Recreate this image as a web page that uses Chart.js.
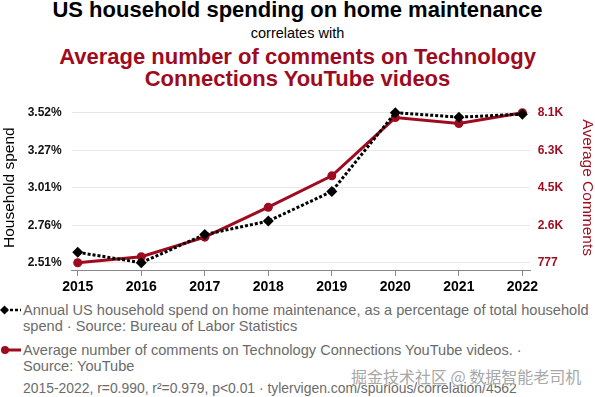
<!DOCTYPE html>
<html><head><meta charset="utf-8">
<script src="https://cdn.jsdelivr.net/npm/chart.js@4"></script>
<style>
html,body{margin:0;padding:0;background:#fff;}
body{width:595px;height:397px;position:relative;overflow:hidden;font-family:"Liberation Sans",Arial,sans-serif;}
.t{position:absolute;left:0;width:595px;text-align:center;white-space:nowrap;}
#t1{top:-2px;font-size:22px;font-weight:bold;color:#000;line-height:24px;}
#t2{top:25px;font-size:14.5px;color:#000;line-height:16px;}
#t3{top:46px;font-size:22px;font-weight:bold;color:#9e0b1f;line-height:21.5px;}
#wrap{position:absolute;left:0;top:0;width:595px;height:300px;}
.leg{position:absolute;left:23px;width:572px;font-size:14.6px;color:#6b6b6b;line-height:16px;white-space:nowrap;}
.mk{position:absolute;left:0;}
#wm{position:absolute;left:351px;top:366px;font-size:16px;line-height:20px;font-family:"Noto Sans CJK SC",sans-serif;color:#a8a8a8;text-shadow:0 0 1px #fff,0 0 1px #fff;white-space:nowrap;}
</style></head>
<body>
<div class="t" id="t1">US household spending on home maintenance</div>
<div class="t" id="t2">correlates with</div>
<div class="t" id="t3">Average number of comments on Technology<br>Connections YouTube videos</div>
<div id="wrap"><canvas id="c" width="595" height="300"></canvas></div>
<svg class="mk" style="top:304px" width="24" height="12"><line x1="5" y1="6" x2="21" y2="6" stroke="#000" stroke-width="2.5" stroke-dasharray="3,2"/><polygon points="4.5,1.5 9,6 4.5,10.5 0,6" fill="#000"/></svg>
<div class="leg" style="top:302.3px">Annual US household spend on home maintenance, as a percentage of total household<br>spend · Source: Bureau of Labor Statistics</div>
<svg class="mk" style="top:344px" width="24" height="12"><line x1="5" y1="6" x2="21" y2="6" stroke="#9e0b1f" stroke-width="3"/><circle cx="5" cy="6" r="4" fill="#9e0b1f"/></svg>
<div class="leg" style="top:342.3px">Average number of comments on Technology Connections YouTube videos. ·<br>Source: YouTube</div>
<div class="leg" style="top:379.7px;font-size:13.9px">2015-2022, r=0.990, r²=0.979, p&lt;0.01 · tylervigen.com/spurious/correlation/4562</div>
<div id="wm">掘金技术社区 @ 数据智能老司机</div>
<script>
const years = [2015, 2016, 2017, 2018, 2019, 2020, 2021, 2022];
const household = [2.58, 2.51, 2.70, 2.79, 2.99, 3.52, 3.49, 3.51];
const comments = [777, 1070, 2030, 3500, 5040, 7900, 7610, 8140];
const leftTickLabels = ['2.51%', '2.76%', '3.01%', '3.27%', '3.52%'];
const rightTickLabels = ['777', '2.6K', '4.5K', '6.3K', '8.1K'];
const RED = '#9e0b1f';

const hMin = Math.min(...household), hMax = Math.max(...household);
const cMin = Math.min(...comments), cMax = Math.max(...comments);
const padFrac = 7.3 / 150;
function even(min, max, n) { const a = []; for (let i = 0; i < n; i++) a.push({value: min + (max - min) * i / (n - 1)}); return a; }

new Chart(document.getElementById('c'), {
  type: 'line',
  data: {
    datasets: [
      {label: 'household', data: years.map((y, i) => ({x: y, y: household[i]})), yAxisID: 'y',
       borderColor: '#000', backgroundColor: '#000', borderWidth: 3, borderDash: [3, 2],
       pointStyle: 'rectRot', pointRadius: 5.5, pointBorderWidth: 0, tension: 0},
      {label: 'comments', data: years.map((y, i) => ({x: y, y: comments[i]})), yAxisID: 'y1',
       borderColor: RED, backgroundColor: RED, borderWidth: 3,
       pointStyle: 'circle', pointRadius: 4.5, pointBorderWidth: 0, tension: 0}
    ]
  },
  options: {
    responsive: false, animation: false, devicePixelRatio: 1,
    layout: {padding: {top: 105.4, left: 0, right: 0, bottom: 0}},
    plugins: {legend: {display: false}, tooltip: {enabled: false}},
    scales: {
      x: {type: 'linear', min: 2014.905, max: 2022.12,
          afterBuildTicks: s => { s.ticks = years.map(v => ({value: v})); },
          ticks: {callback: (v, i) => String(years[i]), font: {family: 'Liberation Sans', size: 14, weight: 'bold'}, color: '#000', padding: 3, maxRotation: 0, autoSkip: false},
          grid: {drawOnChartArea: false, drawTicks: true, tickLength: 6, color: '#888'},
          border: {display: true, color: '#888'},
          afterFit: s => { s.height = 30; }},
      y: {position: 'left', min: hMin - (hMax - hMin) * padFrac, max: hMax + (hMax - hMin) * padFrac,
          afterBuildTicks: s => { s.ticks = even(hMin, hMax, leftTickLabels.length); },
          ticks: {callback: (v, i) => leftTickLabels[i], font: {family: 'Liberation Sans', size: 12, weight: 'bold'}, color: '#111', padding: 10},
          grid: {color: '#e8e8e8', drawTicks: false},
          border: {display: false},
          title: {display: true, text: 'Household spend', color: '#000', font: {family: 'Liberation Sans', size: 15.5, lineHeight: 1}, padding: {top: 1.8, bottom: 0}},
          afterFit: s => { s.width = 71.7; }},
      y1: {position: 'right', min: cMin - (cMax - cMin) * padFrac, max: cMax + (cMax - cMin) * padFrac,
          afterBuildTicks: s => { s.ticks = even(cMin, cMax, rightTickLabels.length); },
          ticks: {callback: (v, i) => rightTickLabels[i], font: {family: 'Liberation Sans', size: 12, weight: 'bold'}, color: RED, padding: 7.7},
          grid: {display: false, drawTicks: false},
          border: {display: false},
          title: {display: true, text: 'Average Comments', color: RED, font: {family: 'Liberation Sans', size: 15.5, lineHeight: 1}, padding: {top: 0, bottom: 0}},
          afterFit: s => { s.width = 65; }}
    }
  }
});
</script>
</body></html>
